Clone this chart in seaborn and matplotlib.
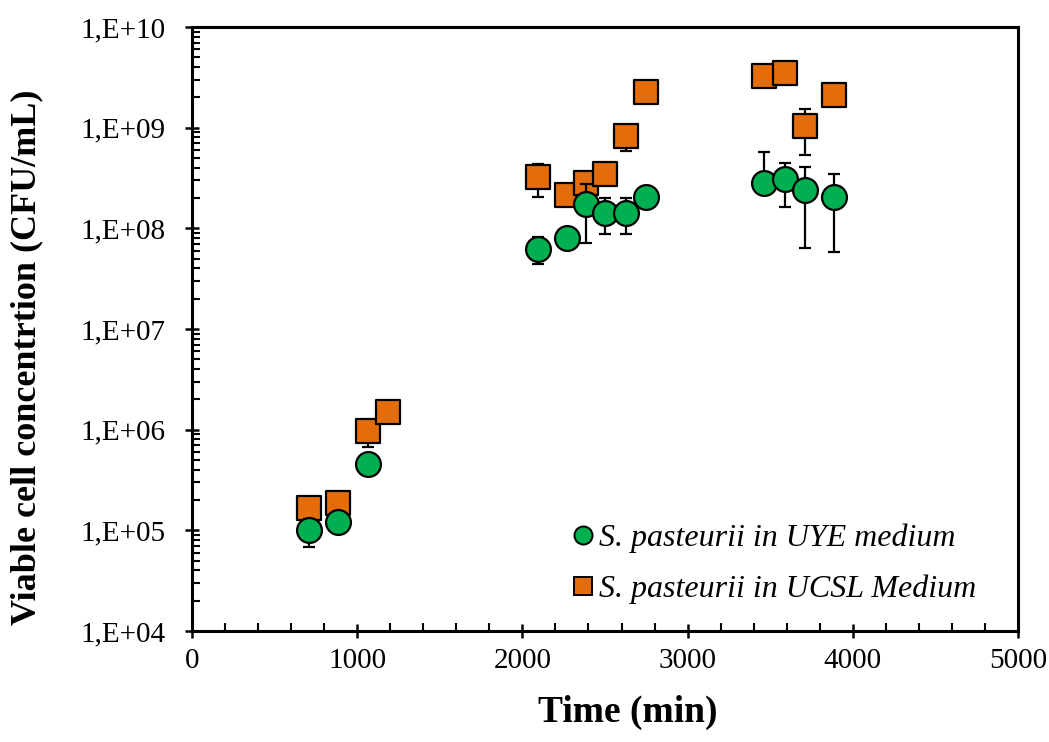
import matplotlib
matplotlib.use("Agg")
import matplotlib.pyplot as plt
import matplotlib.ticker as mticker
from matplotlib.lines import Line2D
import numpy as np
import pandas as pd
import seaborn as sns

# ---- data ----
uye_time = [708, 884, 1065, 2094, 2270, 2385, 2503, 2630, 2748, 3462, 3590, 3708, 3886]
uye_cfu = [1.0e5, 1.2e5, 4.6e5, 6.3e7, 8.1e7, 1.73e8, 1.43e8, 1.43e8, 2.05e8, 2.85e8, 3.1e8, 2.4e8, 2.07e8]
uye_err_lo = [3.1e4, 1.5e4, 5e4, 1.9e7, 1.0e7, 1.02e8, 5.5e7, 5.5e7, 2.0e7, 0.0, 1.47e8, 1.76e8, 1.49e8]
uye_err_hi = [3.1e4, 1.5e4, 5e4, 1.9e7, 1.0e7, 1.02e8, 5.5e7, 5.5e7, 2.0e7, 2.85e8, 1.4e8, 1.66e8, 1.4e8]

ucsl_time = [708, 884, 1065, 1186, 2094, 2270, 2385, 2503, 2630, 2748, 3462, 3590, 3708, 3886]
ucsl_cfu = [1.67e5, 1.89e5, 9.7e5, 1.5e6, 3.2e8, 2.14e8, 2.85e8, 3.47e8, 8.2e8, 2.26e9, 3.26e9, 3.53e9, 1.04e9, 2.11e9]
ucsl_err = [1.5e4, 1.5e4, 2.9e5, 1.0e5, 1.16e8, 2.0e7, 2.0e7, 2.0e7, 2.3e8, 1.0e8, 1.0e8, 1.0e8, 5.0e8, 1.0e8]

series_labels = ["S. pasteurii in UYE medium", "S. pasteurii in UCSL Medium"]
x_ticks = [0, 1000, 2000, 3000, 4000, 5000]
y_ticks = [1e4, 1e5, 1e6, 1e7, 1e8, 1e9, 1e10]
y_tick_labels = ["1,E+04", "1,E+05", "1,E+06", "1,E+07", "1,E+08", "1,E+09", "1,E+10"]

green = "#00B050"
orange = "#E46C0A"

sns.set_style("white")
plt.rcParams["font.family"] = ["Liberation Serif", "DejaVu Serif"]
plt.rcParams["text.color"] = "black"
plt.rcParams["axes.labelcolor"] = "black"
plt.rcParams["xtick.color"] = "black"
plt.rcParams["ytick.color"] = "black"

fig = plt.figure(figsize=(10.49, 7.42), dpi=100)
ax = fig.add_axes([192 / 1049, 1 - 631 / 742, (1018 - 192) / 1049, (631 - 27) / 742])

df_uye = pd.DataFrame({"time": uye_time, "cfu": uye_cfu, "series": series_labels[0]})
df_ucsl = pd.DataFrame({"time": ucsl_time, "cfu": ucsl_cfu, "series": series_labels[1]})

ax.set_yscale("log")

# error bars (behind markers)
ax.errorbar(ucsl_time, ucsl_cfu, yerr=[ucsl_err, ucsl_err], fmt="none", ecolor="black",
            elinewidth=1.6, capsize=4.5, capthick=1.6, zorder=2)
ax.errorbar(uye_time, uye_cfu, yerr=[uye_err_lo, uye_err_hi], fmt="none", ecolor="black",
            elinewidth=1.6, capsize=4.5, capthick=1.6, zorder=4)

sns.scatterplot(data=df_ucsl, x="time", y="cfu", marker="s", s=290, color=orange,
                edgecolor="black", linewidth=1.6, ax=ax, zorder=3, legend=False)
sns.scatterplot(data=df_uye, x="time", y="cfu", marker="o", s=320, color=green,
                edgecolor="black", linewidth=1.6, ax=ax, zorder=5, legend=False)

ax.set_xlim(0, 5000)
ax.set_ylim(1e4, 1e10)
ax.set_xticks(x_ticks)
ax.xaxis.set_minor_locator(mticker.MultipleLocator(200))
ax.set_yticks(y_ticks)
ax.set_yticklabels(y_tick_labels)
ax.yaxis.set_minor_locator(mticker.LogLocator(base=10, subs=np.arange(2, 10), numticks=20))
ax.yaxis.set_minor_formatter(mticker.NullFormatter())

for s in ax.spines.values():
    s.set_visible(True)
    s.set_color("black")
    s.set_linewidth(2.2)

ax.tick_params(axis="both", which="both", bottom=True, left=True, top=False, right=False)
ax.tick_params(axis="both", which="major", direction="inout", length=10, width=1.8,
               labelsize=21, colors="black")
ax.tick_params(axis="both", which="minor", direction="in", length=6, width=1.5, colors="black")
ax.tick_params(axis="x", which="major", pad=7)
ax.tick_params(axis="y", which="major", pad=14)

ax.set_xlabel("Time (min)", fontsize=27, fontweight="bold")
ax.set_ylabel("Viable cell concentrtion (CFU/mL)", fontsize=26, fontweight="bold")
ax.xaxis.set_label_coords(0.527, -0.105)
ax.yaxis.set_label_coords(-0.18, 0.4536)

handles = [
    Line2D([], [], marker="o", linestyle="none", markersize=13, markerfacecolor=green,
           markeredgecolor="black", markeredgewidth=1.4),
    Line2D([], [], marker="s", linestyle="none", markersize=13, markerfacecolor=orange,
           markeredgecolor="black", markeredgewidth=1.4),
]
leg = ax.legend(handles, series_labels, loc="lower left", bbox_to_anchor=(0.442, 0.018),
                frameon=False, borderpad=0, handlelength=0.6, handletextpad=0.2,
                labelspacing=0.68, prop={"family": "Liberation Serif", "style": "italic", "size": 23})

fig.savefig("out.png", dpi=100)
